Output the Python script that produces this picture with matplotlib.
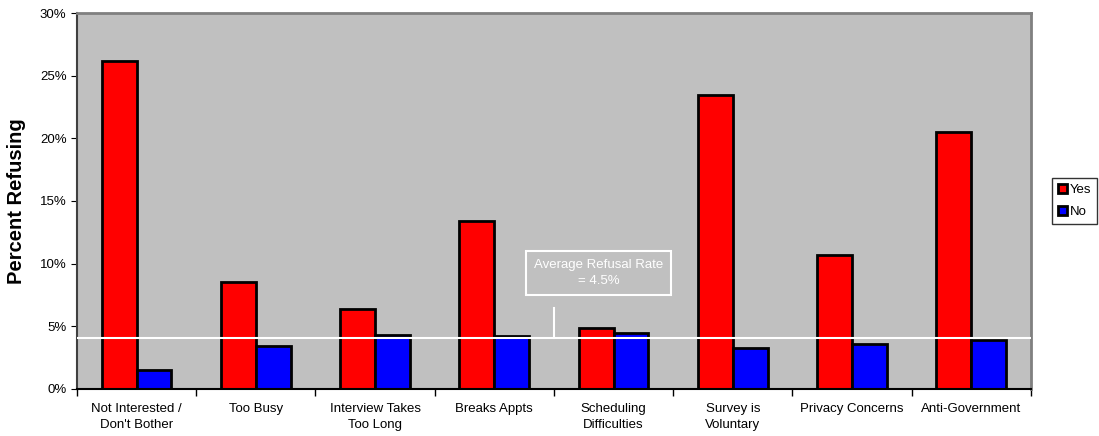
import numpy as np
import matplotlib.pyplot as plt
from matplotlib.ticker import FuncFormatter

plt.rcParams['font.family'] = ['Liberation Sans', 'DejaVu Sans']

categories = ["Not Interested /\nDon't Bother", "Too Busy", "Interview Takes\nToo Long",
              "Breaks Appts", "Scheduling\nDifficulties", "Survey is\nVoluntary",
              "Privacy Concerns", "Anti-Government"]
yes_vals = [26.15, 8.5, 6.4, 13.4, 4.85, 23.5, 10.7, 20.5]
no_vals = [1.5, 3.4, 4.3, 4.25, 4.45, 3.27, 3.6, 3.9]
avg_line = 4.05

fig = plt.figure(figsize=(10.99, 4.36), dpi=100)
ax = fig.add_axes([0.070, 0.108, 0.868, 0.862])
ax.set_facecolor('#c0c0c0')

x = np.arange(len(categories))
w = 0.293
ax.bar(x - w / 2, yes_vals, w, color='#ff0000', edgecolor='black', linewidth=2, label='Yes', zorder=2)
ax.bar(x + w / 2, no_vals, w, color='#0000ff', edgecolor='black', linewidth=2, label='No', zorder=2)

ax.axhline(avg_line, color='white', linewidth=1.5, zorder=3)

ax.set_xlim(-0.5, len(categories) - 0.5)
ax.set_ylim(0, 30)
ax.set_yticks(np.arange(0, 31, 5))
ax.yaxis.set_major_formatter(FuncFormatter(lambda v, p: f"{v:.0f}%"))
ax.set_xticks(np.arange(-0.5, len(categories), 1.0))
ax.set_xticklabels([])
ax.set_xticks(x, minor=True)
ax.set_xticklabels(categories, minor=True, fontsize=9.5, linespacing=1.45)
ax.tick_params(axis='x', which='minor', length=0, pad=10)
ax.tick_params(axis='x', which='major', length=5, width=1, direction='out')
ax.tick_params(axis='y', labelsize=9.5, length=4, direction='out')

for s in ['top', 'right']:
    ax.spines[s].set_color('#808080')
    ax.spines[s].set_linewidth(2)
ax.spines['left'].set_color('#404040')
ax.spines['left'].set_linewidth(1.5)
ax.spines['bottom'].set_color('black')
ax.spines['bottom'].set_linewidth(1.5)

ax.set_ylabel('Percent Refusing', fontsize=14.5, fontweight='bold', labelpad=10)

# annotation box and pointer
ax.text(3.873, 9.26, "Average Refusal Rate\n= 4.5%", ha='center', va='center', fontsize=9.5,
        color='white', linespacing=1.5,
        bbox=dict(boxstyle='square,pad=0.6', facecolor='none', edgecolor='white', linewidth=1.5), zorder=4)
ax.plot([3.5, 3.5], [avg_line, 6.46], color='white', linewidth=1.5, zorder=3)

leg = ax.legend(loc='center left', bbox_to_anchor=(1.022, 0.5), fontsize=9.5, frameon=True,
                fancybox=False, edgecolor='black', handlelength=0.7, handleheight=0.7,
                handletextpad=0.2, borderpad=0.45, labelspacing=0.75, borderaxespad=0)
leg.get_frame().set_linewidth(1)

fig.savefig('out.png', dpi=100)
